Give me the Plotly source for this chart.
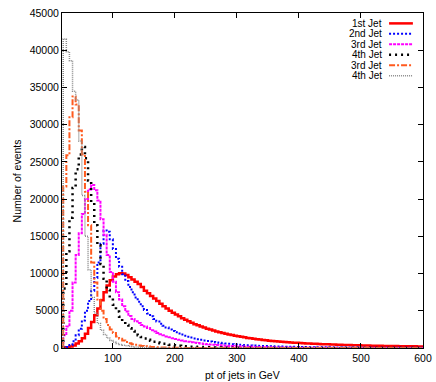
import plotly.graph_objects as go

# 5 GeV bins, left edges 20 ... 595
bin_width = 5
bin_edges = list(range(20, 600, bin_width))

jet1 = [50, 100, 200, 350, 600, 900, 1300, 1900, 2700, 3500,
        4400, 5300, 6400, 7500, 8400, 9100, 9600, 9900, 10050, 10000,
        9800, 9500, 9200, 8900, 8600, 8200, 7700, 7350, 7000, 6650,
        6300, 5950, 5600, 5300, 5000, 4750, 4500, 4250, 4000, 3800,
        3600, 3400, 3200, 3050, 2900, 2750, 2600, 2480, 2350, 2230,
        2120, 2020, 1920, 1830, 1740, 1650, 1570, 1500, 1430, 1360,
        1300, 1240, 1180, 1130, 1080, 1030, 990, 950, 910, 870,
        840, 810, 780, 750, 720, 700, 670, 650, 620, 600,
        580, 560, 540, 520, 505, 490, 470, 455, 440, 425,
        415, 400, 390, 375, 365, 355, 345, 335, 325, 318,
        310, 300, 292, 285, 278, 270, 262, 255, 250, 243,
        237, 230, 225, 220, 214, 208]

jet2 = [50, 150, 400, 900, 1700, 2600, 3700, 5000, 6300, 7700,
        9400, 11500, 14000, 15800, 15600, 14600, 13300, 12000, 10900, 9900,
        9000, 8200, 7500, 6800, 6200, 5600, 5100, 4650, 4250, 3900,
        3550, 3250, 3000, 2750, 2500, 2300, 2120, 1950, 1800, 1650,
        1520, 1400, 1290, 1190, 1100, 1010, 940, 870, 800, 740,
        690, 640, 600, 560, 520, 485, 450, 420, 395, 370,
        345, 325, 305, 285, 270, 255, 240, 225, 212, 200,
        190, 180, 170, 160, 152, 144, 136, 129, 122, 116,
        110, 104, 99, 94, 89, 85, 80, 76, 72, 69,
        65, 62, 59, 56, 53, 50, 48, 45, 43, 41,
        39, 37, 35, 33, 32, 30, 29, 27, 26, 25,
        23, 22, 21, 20, 19, 18]

jet3 = [1700, 2900, 5000, 8800, 12500, 15400, 18000, 20000, 21300, 21900,
        21200, 19800, 17300, 15200, 12500, 10200, 8900, 7500, 6500, 5600,
        4900, 4300, 3900, 3600, 3350, 3100, 2880, 2680, 2400, 2200,
        2020, 1850, 1700, 1560, 1430, 1310, 1200, 1100, 1010, 920,
        850, 780, 715, 655, 600, 550, 505, 465, 425, 390,
        360, 330, 305, 280, 258, 238, 220, 203, 187, 172,
        158, 146, 134, 124, 114, 105, 97, 89, 82, 76,
        70, 64, 59, 55, 50, 46, 43, 40, 37, 34,
        31, 29, 27, 25, 23, 21, 19, 18, 16, 15,
        14, 13, 12, 11, 10, 9, 9, 8, 7, 7,
        6, 6, 5, 5, 5, 4, 4, 4, 3, 3,
        3, 3, 2, 2, 2, 2]

jet4 = [8000, 13000, 17500, 21500, 24000, 26000, 27000, 25500, 22500, 19500,
        16500, 13800, 11300, 9300, 7800, 6700, 5800, 4900, 4200, 3600,
        3100, 2650, 2300, 1980, 1700, 1470, 1270, 1100, 960, 840,
        730, 640, 560, 490, 430, 375, 330, 290, 255, 225,
        198, 175, 155, 137, 121, 107, 95, 84, 75, 66,
        59, 52, 46, 41, 37, 33, 29, 26, 23, 20,
        18, 16, 14, 13, 11, 10, 9, 8, 7, 6,
        6, 5, 5, 4, 4, 3, 3, 3, 2, 2,
        2, 2, 2, 1, 1, 1, 1, 1, 1, 1,
        1, 1, 1, 1, 0, 0, 0, 0, 0, 0,
        0, 0, 0, 0, 0, 0, 0, 0, 0, 0,
        0, 0, 0, 0, 0, 0]

jet3b = [21700, 25900, 31000, 33800, 32700, 29200, 26000, 21000, 16500, 11500,
         8800, 6500, 5000, 3900, 3100, 2500, 2000, 1550, 1250, 1000,
         800, 650, 520, 420, 340, 275, 225, 185, 150, 122,
         100, 82, 67, 55, 45, 37, 30, 25, 20, 16,
         13, 11, 9, 7, 6, 5, 4, 3, 3, 2,
         2, 2, 1, 1, 1, 1, 1, 0, 0, 0,
         0, 0, 0, 0, 0, 0, 0, 0, 0, 0,
         0, 0, 0, 0, 0, 0, 0, 0, 0, 0,
         0, 0, 0, 0, 0, 0, 0, 0, 0, 0,
         0, 0, 0, 0, 0, 0, 0, 0, 0, 0,
         0, 0, 0, 0, 0, 0, 0, 0, 0, 0,
         0, 0, 0, 0, 0, 0]

jet4b = [41500, 39800, 38600, 34500, 33300, 27800, 20500, 15000, 10500, 6800,
         4700, 3300, 2400, 1800, 1350, 1000, 780, 600, 470, 370,
         290, 230, 180, 145, 115, 92, 74, 60, 48, 39,
         32, 26, 21, 17, 14, 11, 9, 7, 6, 5,
         4, 3, 3, 2, 2, 2, 1, 1, 1, 1,
         0, 0, 0, 0, 0, 0, 0, 0, 0, 0,
         0, 0, 0, 0, 0, 0, 0, 0, 0, 0,
         0, 0, 0, 0, 0, 0, 0, 0, 0, 0,
         0, 0, 0, 0, 0, 0, 0, 0, 0, 0,
         0, 0, 0, 0, 0, 0, 0, 0, 0, 0,
         0, 0, 0, 0, 0, 0, 0, 0, 0, 0,
         0, 0, 0, 0, 0, 0]

labels = ['1st Jet', '2nd Jet', '3rd Jet', '4th Jet', '3rd Jet', '4th Jet']
series = [jet1, jet2, jet3, jet4, jet3b, jet4b]
x_ticks = [100, 200, 300, 400, 500, 600]
y_ticks = [0, 5000, 10000, 15000, 20000, 25000, 30000, 35000, 40000, 45000]
x_range = [18, 600]
y_range = [0, 45000]

styles = [
    dict(color='#ff0000', width=2.5, dash='solid'),
    dict(color='#0000ff', width=2, dash='2px,2px'),
    dict(color='#ff00ff', width=2, dash='3px,1px'),
    dict(color='#000000', width=2.5, dash='2px,4px'),
    dict(color='#ff5a1e', width=2, dash='6px,2px,2px,2px'),
    dict(color='#8c8c8c', width=1.5, dash='1px,1px'),
]

narrow = 'Liberation Sans Narrow, Arial Narrow, Liberation Sans, Arial, sans-serif'
txt = dict(family=narrow, size=10.5, color='#000000')
txt_key = dict(family=narrow, size=10, color='#000000')
txt_y = dict(family='Liberation Sans, Arial, sans-serif', size=10.5, color='#000000')

fig = go.Figure()
for vals, st in zip(series, styles):
    # histogram steps, starting from zero at the first edge
    xs = [bin_edges[0]] + bin_edges + [bin_edges[-1] + bin_width]
    ys = [0] + vals + [vals[-1]]
    fig.add_trace(go.Scatter(x=xs, y=ys, mode='lines', line=dict(shape='hv', **st),
                             showlegend=False, hoverinfo='skip'))

# gnuplot-style key: text on the left, sample on the right
for i, (lab, st) in enumerate(zip(labels, styles)):
    yk = 0.969 - i * 0.0312
    fig.add_annotation(x=0.892, y=yk, xref='paper', yref='paper', text=lab,
                       showarrow=False, xanchor='right', yanchor='middle', font=txt_key)
    fig.add_shape(type='line', xref='paper', yref='paper', x0=0.906, x1=0.972,
                  y0=yk, y1=yk, line=st)

# axis titles
fig.add_annotation(x=0.5, y=-0.057, xref='paper', yref='paper', text='pt of jets in GeV',
                   showarrow=False, xanchor='center', yanchor='top', font=txt)
fig.add_annotation(x=-0.125, y=0.5, xref='paper', yref='paper', text='Number of events',
                   showarrow=False, textangle=-90, xanchor='center', yanchor='middle', font=txt_y)

axis_common = dict(showline=True, linecolor='#000000', linewidth=1, mirror='ticks',
                   ticks='inside', ticklen=5, tickcolor='#000000', showgrid=False,
                   zeroline=False, automargin=False, tickfont=txt)

fig.update_xaxes(range=x_range, tickvals=x_ticks, **axis_common)
fig.update_yaxes(range=y_range, tickvals=y_ticks, tickformat='d', **axis_common)

fig.update_layout(width=436, height=382, plot_bgcolor='white', paper_bgcolor='white',
                  margin=dict(l=62, r=13, t=13, b=34, autoexpand=False), showlegend=False)

# drop the default 8px page margin so the figure fills the window exactly
fig.write_html('out.html', config={'displayModeBar': False},
               post_script="document.body.style.margin='0px';")
